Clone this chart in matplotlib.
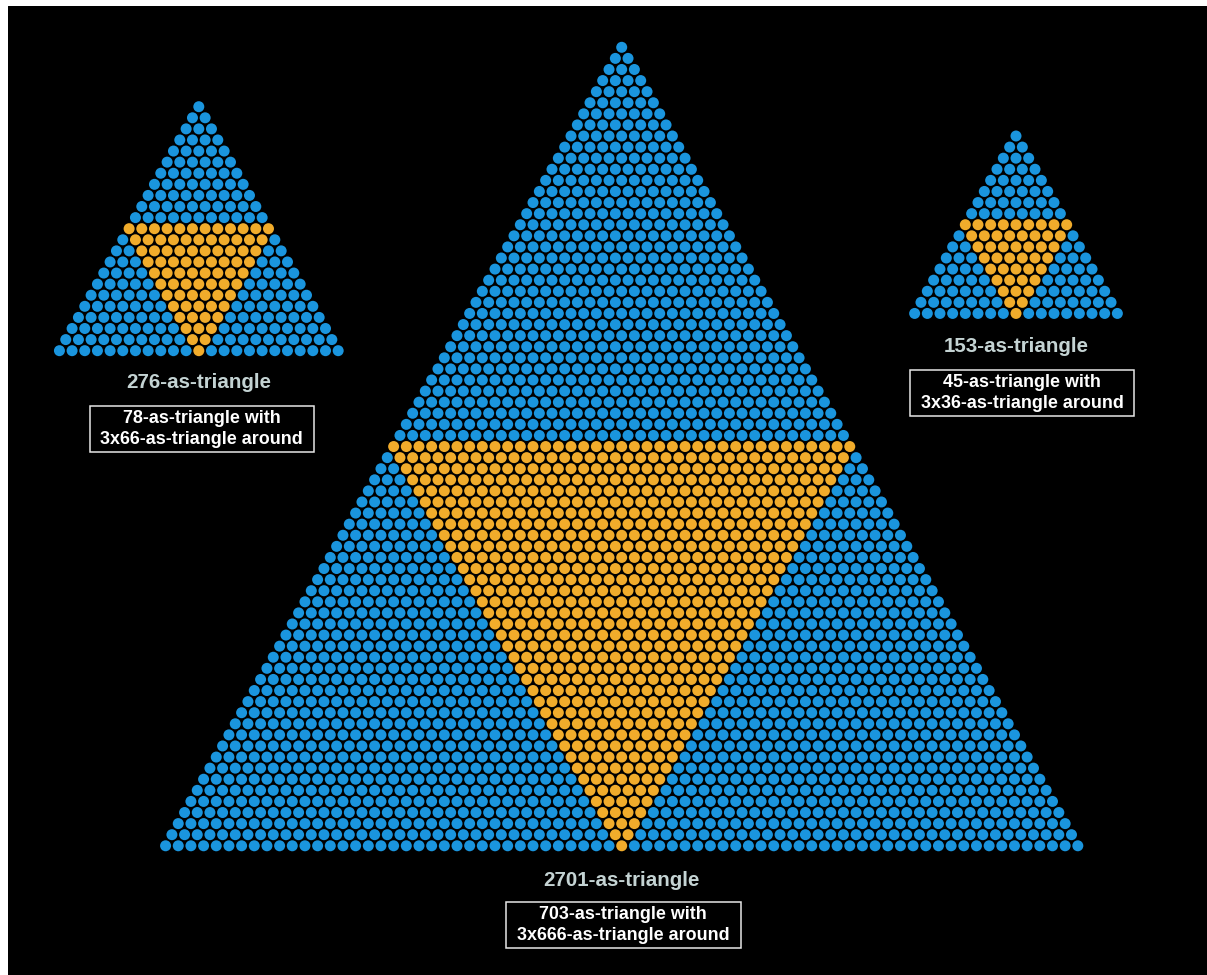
import numpy as np
import matplotlib
matplotlib.use("Agg")
import matplotlib.pyplot as plt

# ── Datos: números triangulares ─────────────────────────────────────────────
totals = [276, 2701, 153]          # triángulo completo
inner = [78, 703, 45]              # triángulo naranja invertido
outer = [66, 666, 36]              # cada uno de los 3 triángulos azules
titles = ["276-as-triangle", "2701-as-triangle", "153-as-triangle"]
captions = ["78-as-triangle with\n3x66-as-triangle around",
            "703-as-triangle with\n3x666-as-triangle around",
            "45-as-triangle with\n3x36-as-triangle around"]

# ── Estilo / posiciones (píxeles) ───────────────────────────────────────────
BLUE = "#1A95DE"
ORANGE = "#F1AC2B"
TITLE_C = "#C4D3D3"
DX, DY = 12.67, 11.09
apex = [(198.8, 106.7), (621.7, 47.3), (1016.0, 136.0)]
title_y = [383, 880, 347]
# caja del pie: (x0, x1, y0, y1)
boxes = [(89.5, 313.5, 405.5, 451.5), (506, 740.5, 901.5, 948),
         (910, 1134, 369.5, 416)]
FS_TITLE = 14.8
FS_CAP = 12.9


def side(t):
    return int(round((np.sqrt(8 * t + 1) - 1) / 2))


W, H = 1207, 975
fig = plt.figure(figsize=(W / 100, H / 100), dpi=100, facecolor="white")
ax = fig.add_axes([8 / W, 0, 1 - 8 / W, 1 - 6 / H])
ax.set_facecolor("black")
ax.set_xlim(8, W)
ax.set_ylim(H, 6)
ax.axis("off")
ax.add_patch(plt.Rectangle((8, 6), W, H, color="black", zorder=0))

dot_pt = 11 * 72 / 100
for i in range(3):
    n = side(totals[i])
    k = side(outer[i])
    xs, ys, cs = [], [], []
    for r in range(n):
        for c in range(r + 1):
            xs.append(apex[i][0] + (c - r / 2) * DX)
            ys.append(apex[i][1] + r * DY)
            orange = r >= k and (r - k) <= c <= k
            cs.append(ORANGE if orange else BLUE)
    ax.scatter(xs, ys, s=dot_pt ** 2, c=cs, linewidths=0, zorder=2)

    ax.text(apex[i][0], title_y[i], titles[i], color=TITLE_C,
            fontsize=FS_TITLE, fontfamily="Liberation Sans", fontweight="bold",
            ha="center", va="center")
    x0, x1, y0, y1 = boxes[i]
    ax.add_patch(plt.Rectangle((x0, y0), x1 - x0, y1 - y0, fill=False,
                               ec="#E6E6E6", lw=1.1, zorder=3))
    ax.text((x0 + x1) / 2, (y0 + y1) / 2 + 0.5, captions[i], color="white",
            fontsize=FS_CAP, fontfamily="Liberation Sans", fontweight="bold",
            ha="center", va="center", linespacing=1.3)

fig.savefig("out.png", dpi=100, facecolor="white")
